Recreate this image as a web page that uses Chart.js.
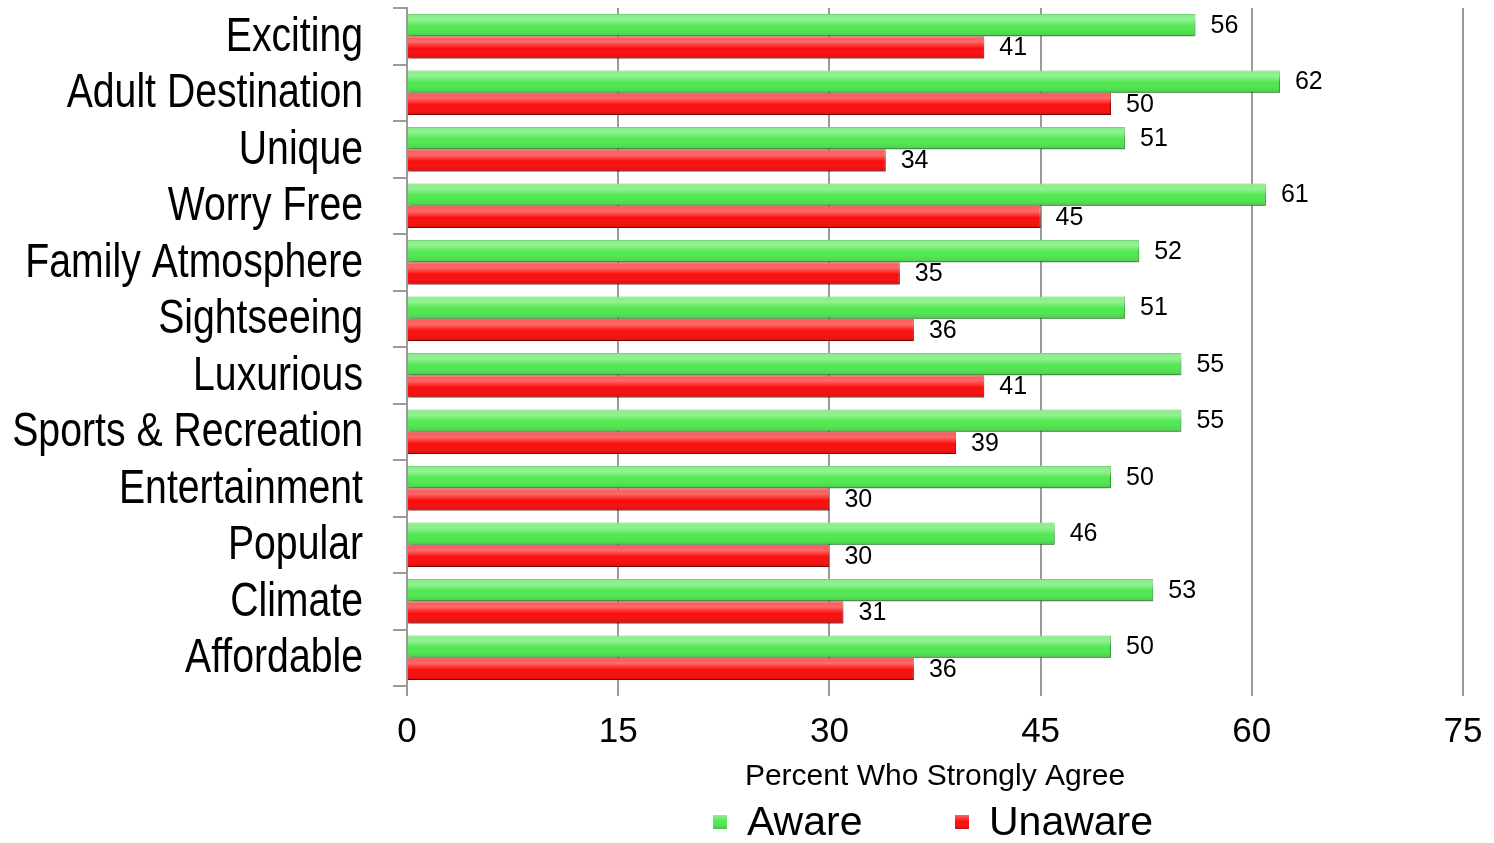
<!DOCTYPE html>
<html>
<head>
<meta charset="utf-8">
<script src="https://cdn.jsdelivr.net/npm/chart.js"></script>
<style>
  html, body { margin: 0; padding: 0; background: #ffffff; }
  #grafico { display: block; }
</style>
</head>
<body>
<canvas id="grafico" width="1494" height="843"></canvas>
<script>
var categorias = ["Exciting", "Adult Destination", "Unique", "Worry Free", "Family Atmosphere",
    "Sightseeing", "Luxurious", "Sports & Recreation", "Entertainment", "Popular", "Climate", "Affordable"];
var dadosAware = [56, 62, 51, 61, 52, 51, 55, 55, 50, 46, 53, 50];
var dadosUnaware = [41, 50, 34, 45, 35, 36, 41, 39, 30, 30, 31, 36];
var ticksX = [0, 15, 30, 45, 60, 75];
var tituloX = "Percent Who Strongly Agree";

var corVerde = "#50e850";
var corVermelho = "#fb0d0d";
var corGrade = "#9a9a9a";
var fonte = "'Liberation Sans', Arial, sans-serif";

// sombra embaixo das barras, brilho e valor na ponta
var sombraBarras = {
    id: "sombraBarras",
    beforeDatasetsDraw: function (chart) {
        var ctx = chart.ctx;
        ctx.save();
        ctx.shadowColor = "rgba(0,0,0,0.32)";
        ctx.shadowBlur = 3;
        ctx.shadowOffsetX = 1;
        ctx.shadowOffsetY = 4;
    },
    afterDatasetsDraw: function (chart) {
        var ctx = chart.ctx;
        ctx.restore();

        chart.data.datasets.forEach(function (ds, di) {
            var meta = chart.getDatasetMeta(di);
            meta.data.forEach(function (bar, i) {
                var topo = bar.y - bar.height / 2;
                var esq = Math.min(bar.x, bar.base);
                var larg = Math.abs(bar.x - bar.base);
                var grad = ctx.createLinearGradient(0, topo, 0, topo + bar.height);
                grad.addColorStop(0, "rgba(255,255,255,0.30)");
                grad.addColorStop(0.25, "rgba(255,255,255,0.38)");
                grad.addColorStop(0.55, "rgba(255,255,255,0.0)");
                grad.addColorStop(1, "rgba(0,0,0,0.12)");
                ctx.fillStyle = grad;
                ctx.fillRect(esq, topo, larg, bar.height);

                ctx.fillStyle = "#000000";
                ctx.font = "25px " + fonte;
                ctx.textAlign = "left";
                ctx.textBaseline = "middle";
                ctx.fillText(String(ds.data[i]), bar.x + 15, bar.y + 1);
            });
        });
    }
};

// nomes das categorias em letra estreita
var rotulosY = {
    id: "rotulosY",
    afterDraw: function (chart) {
        var ctx = chart.ctx;
        var escala = chart.scales.y;
        ctx.save();
        ctx.fillStyle = "#000000";
        ctx.font = "49px " + fonte;
        ctx.textAlign = "right";
        ctx.textBaseline = "middle";
        categorias.forEach(function (nome, i) {
            var y = escala.getPixelForTick(i);
            ctx.save();
            ctx.translate(escala.right - 44, y + 1);
            ctx.scale(0.80, 1);
            ctx.fillText(nome, 0, 0);
            ctx.restore();
        });
        ctx.restore();
    }
};

// legenda desenhada embaixo do titulo do eixo
var legendaBaixo = {
    id: "legendaBaixo",
    afterDraw: function (chart) {
        var ctx = chart.ctx;
        var itens = [
            { texto: chart.data.datasets[0].label, cor: corVerde, x: 713 },
            { texto: chart.data.datasets[1].label, cor: corVermelho, x: 955 }
        ];
        var y = 822;
        ctx.save();
        itens.forEach(function (item) {
            ctx.fillStyle = item.cor;
            ctx.fillRect(item.x, y - 7, 14, 14);
            var g = ctx.createLinearGradient(0, y - 7, 0, y + 7);
            g.addColorStop(0, "rgba(255,255,255,0.35)");
            g.addColorStop(0.5, "rgba(255,255,255,0.0)");
            g.addColorStop(1, "rgba(0,0,0,0.18)");
            ctx.fillStyle = g;
            ctx.fillRect(item.x, y - 7, 14, 14);
            ctx.fillStyle = "#000000";
            ctx.font = "41px " + fonte;
            ctx.textAlign = "left";
            ctx.textBaseline = "middle";
            ctx.fillText(item.texto, item.x + 34, y + 2);
        });
        ctx.restore();
    }
};

new Chart(document.getElementById("grafico"), {
    type: "bar",
    data: {
        labels: categorias,
        datasets: [{
            label: "Aware",
            data: dadosAware,
            backgroundColor: corVerde,
            borderColor: "#3cbf3c",
            borderWidth: 1,
            categoryPercentage: 0.79,
            barPercentage: 1.0
        },
        {
            label: "Unaware",
            data: dadosUnaware,
            backgroundColor: corVermelho,
            borderColor: "#c00000",
            borderWidth: 1,
            categoryPercentage: 0.79,
            barPercentage: 1.0
        }]
    },
    options: {
        indexAxis: "y",
        responsive: false,
        animation: false,
        layout: {
            padding: { top: 8, right: 31, bottom: 51, left: 0 }
        },
        plugins: {
            legend: { display: false },
            tooltip: { enabled: false }
        },
        scales: {
            x: {
                min: 0,
                max: 75,
                afterBuildTicks: function (scale) {
                    scale.ticks = ticksX.map(function (v) { return { value: v }; });
                },
                afterFit: function (scale) {
                    scale.height = 106;
                    scale.paddingLeft = 0;
                    scale.paddingRight = 0;
                },
                border: { display: false },
                grid: {
                    color: corGrade,
                    lineWidth: 2,
                    tickLength: 10
                },
                ticks: {
                    color: "#000000",
                    font: { family: fonte, size: 35, lineHeight: 1.0 },
                    padding: 19,
                    maxRotation: 0
                },
                title: {
                    display: true,
                    text: tituloX,
                    color: "#000000",
                    font: { family: fonte, size: 30, lineHeight: 1.0 },
                    padding: { top: 0, bottom: 0 }
                }
            },
            y: {
                afterFit: function (scale) {
                    scale.width = 407;
                    scale.paddingTop = 0;
                    scale.paddingBottom = 0;
                },
                border: { display: true, color: corGrade, width: 2 },
                grid: {
                    drawOnChartArea: false,
                    offset: true,
                    color: corGrade,
                    lineWidth: 2,
                    tickLength: 14
                },
                ticks: {
                    display: false,
                    autoSkip: false
                }
            }
        }
    },
    plugins: [sombraBarras, rotulosY, legendaBaixo]
});
</script>
</body>
</html>
